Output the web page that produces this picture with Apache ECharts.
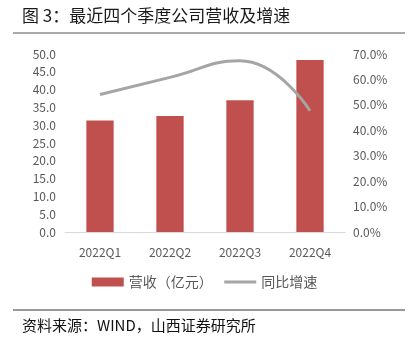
<!DOCTYPE html>
<html>
<head>
<meta charset="utf-8">
<script src="https://cdn.jsdelivr.net/npm/echarts@6/dist/echarts.min.js"></script>
<style>
  html, body { margin: 0; padding: 0; background: #fff; }
  #chart { width: 409px; height: 341px; }
</style>
</head>
<body>
<div id="chart"></div>
<script>
// Quarterly revenue (100M CNY) and YoY growth (%)
const categories = ['2022Q1', '2022Q2', '2022Q3', '2022Q4'];
const revenue = [31.3, 32.6, 37.0, 48.3];
const growth = [54.1, 60.8, 67.3, 47.7];
const leftTicks = { min: 0, max: 50, interval: 5 };
const rightTicks = { min: 0, max: 70, interval: 10 };

const FONT = '"Noto Sans CJK SC", "Noto Sans", sans-serif';
const chart = echarts.init(document.getElementById('chart'), null, { renderer: 'canvas' });

chart.setOption({
  backgroundColor: '#fff',
  animation: false,
  textStyle: { fontFamily: FONT },
  grid: { left: 65, right: 64, top: 54, bottom: 109, containLabel: false },
  legend: {
    bottom: 47,
    left: 'center',
    itemGap: 10,
    itemWidth: 32,
    itemHeight: 9,
    textStyle: { color: '#595959', fontSize: 14, fontFamily: FONT },
    data: [
      { name: '营收（亿元）', icon: 'rect' },
      { name: '同比增速', itemStyle: { opacity: 0 }, lineStyle: { width: 3, color: '#A5A5A5' } }
    ]
  },
  xAxis: {
    type: 'category',
    data: categories,
    axisLine: { lineStyle: { color: '#D9D9D9', width: 1 } },
    axisTick: { show: false },
    axisLabel: { color: '#595959', fontSize: 12, margin: 14, fontFamily: FONT }
  },
  yAxis: [
    {
      type: 'value',
      min: leftTicks.min, max: leftTicks.max, interval: leftTicks.interval,
      splitLine: { show: false },
      axisLine: { show: false },
      axisTick: { show: false },
      axisLabel: { color: '#595959', fontSize: 12, margin: 9, fontFamily: FONT,
        formatter: v => v.toFixed(1) }
    },
    {
      type: 'value',
      min: rightTicks.min, max: rightTicks.max, interval: rightTicks.interval,
      splitLine: { show: false },
      axisLine: { show: false },
      axisTick: { show: false },
      axisLabel: { color: '#595959', fontSize: 12, margin: 8, fontFamily: FONT,
        formatter: v => v.toFixed(1) + '%' }
    }
  ],
  series: [
    {
      name: '营收（亿元）',
      type: 'bar',
      data: revenue,
      barWidth: '39%',
      itemStyle: { color: '#C0504D' }
    },
    {
      name: '同比增速',
      type: 'line',
      yAxisIndex: 1,
      data: growth,
      smooth: 0.5,
      showSymbol: false,
      symbol: 'none',
      lineStyle: { color: '#A5A5A5', width: 3 },
      itemStyle: { color: '#A5A5A5' }
    }
  ],
  graphic: [
    {
      type: 'text', left: 22, top: 7,
      style: { text: '图 3：最近四个季度公司营收及增速', fill: '#1a1a1a', fontSize: 17, fontFamily: FONT }
    },
    {
      type: 'line', shape: { x1: 13, y1: 33, x2: 405, y2: 33 },
      style: { stroke: '#555', lineWidth: 1 }
    },
    {
      type: 'line', shape: { x1: 13, y1: 310, x2: 405, y2: 310 },
      style: { stroke: '#333', lineWidth: 1 }
    },
    {
      type: 'text', left: 22, top: 318,
      style: { text: '资料来源：WIND，山西证券研究所', fill: '#111', fontSize: 15, fontFamily: FONT }
    }
  ]
});
</script>
</body>
</html>
